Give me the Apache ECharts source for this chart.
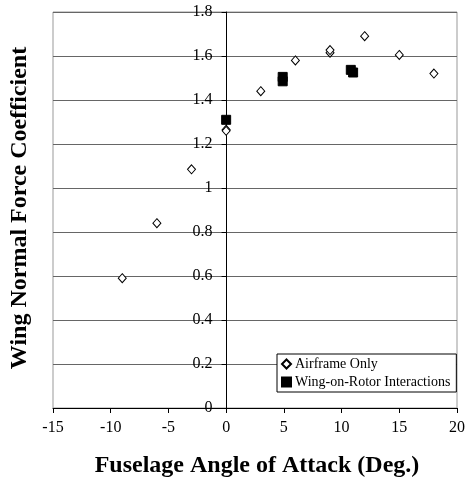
<!DOCTYPE html>
<html>
<head>
<meta charset="utf-8">
<script src="https://cdn.jsdelivr.net/npm/echarts@6/dist/echarts.min.js"></script>
<style>
  html, body { margin: 0; padding: 0; background: #fff; }
  #chart { width: 468px; height: 486px; }
</style>
</head>
<body>
<div id="chart"></div>
<script>
// Wing normal force coefficient vs fuselage angle of attack
const xTicks = [-15, -10, -5, 0, 5, 10, 15, 20];
const yTicks = [0, 0.2, 0.4, 0.6, 0.8, 1, 1.2, 1.4, 1.6, 1.8];

// Airframe only: [angle (deg), coefficient]
const airframeOnly = [
  [-9, 0.59], [-6, 0.84], [-3, 1.085], [0, 1.265], [0, 1.26],
  [3, 1.44], [6, 1.58], [9, 1.615], [9, 1.627], [12, 1.69],
  [15, 1.605], [18, 1.52]
];

// Wing-on-rotor interactions: [angle (deg), coefficient]
const wingOnRotor = [
  [0, 1.31], [4.9, 1.505], [4.9, 1.485], [10.8, 1.537], [11.0, 1.525]
];

const serif = '"Liberation Serif", "DejaVu Serif", serif';

const GRID_LEFT = 53, GRID_RIGHT = 10;
const chartWidth = 468;
const plotWidth = chartWidth - GRID_LEFT - GRID_RIGHT;
const xMin = xTicks[0], xMax = xTicks[xTicks.length - 1];
// The vertical axis sits on angle = 0, so shift it right from the grid's left edge
const yAxisShift = plotWidth * (0 - xMin) / (xMax - xMin);

const chart = echarts.init(document.getElementById('chart'), null, { renderer: 'canvas' });

chart.setOption({
  animation: false,
  backgroundColor: '#fff',
  grid: {
    left: GRID_LEFT, right: GRID_RIGHT, top: 12, bottom: 78,
    show: true, borderColor: '#999', borderWidth: 1, backgroundColor: 'transparent'
  },
  xAxis: {
    type: 'value',
    min: xMin, max: xMax, interval: 5,
    axisLine: { show: true, onZero: true, lineStyle: { color: '#000', width: 1 } },
    axisTick: { show: true, length: 5, inside: false, lineStyle: { color: '#000' } },
    axisLabel: { color: '#000', fontFamily: serif, fontSize: 16, margin: 12 },
    splitLine: { show: false }
  },
  yAxis: {
    type: 'value',
    position: 'left',
    offset: -yAxisShift,
    min: yTicks[0], max: yTicks[yTicks.length - 1], interval: 0.2,
    axisLine: { show: true, onZero: false, lineStyle: { color: '#000', width: 1 } },
    axisTick: { show: true, length: 5, inside: false, lineStyle: { color: '#000' } },
    axisLabel: {
      color: '#000', fontFamily: serif, fontSize: 16, margin: 14,
      formatter: v => String(Math.round(v * 10) / 10)
    },
    splitLine: { show: true, lineStyle: { color: '#666', width: 1 } }
  },
  legend: {
    orient: 'vertical',
    left: 277, top: 354,
    data: ['Airframe Only', 'Wing-on-Rotor Interactions'],
    backgroundColor: '#fff',
    borderColor: '#000', borderWidth: 1, borderRadius: 0,
    padding: [3, 6, 3, 4],
    itemGap: 4, itemWidth: 9, itemHeight: 9,
    textStyle: { color: '#000', fontFamily: serif, fontSize: 14, padding: [0, 0, 0, -1] }
  },
  graphic: [
    {
      type: 'text',
      x: 257, y: 466,
      style: {
        text: 'Fuselage Angle of Attack (Deg.)',
        fontFamily: serif, fontWeight: 'bold', fontSize: 24, fill: '#000',
        align: 'center', verticalAlign: 'middle'
      }
    },
    {
      type: 'text',
      x: 20, y: 208,
      rotation: Math.PI / 2,
      style: {
        text: 'Wing Normal Force Coefficient',
        fontFamily: serif, fontWeight: 'bold', fontSize: 24, fill: '#000',
        align: 'center', verticalAlign: 'middle'
      }
    }
  ],
  series: [
    {
      name: 'Wing-on-Rotor Interactions',
      type: 'scatter',
      symbol: 'rect',
      symbolSize: 9,
      itemStyle: { color: '#000', borderColor: '#000', borderWidth: 1, opacity: 1 },
      data: wingOnRotor,
      z: 2
    },
    {
      name: 'Airframe Only',
      type: 'scatter',
      symbol: 'diamond',
      symbolSize: [8, 9],
      itemStyle: { color: '#fff', borderColor: '#000', borderWidth: 1, opacity: 1 },
      data: airframeOnly,
      z: 3
    }
  ]
});
</script>
</body>
</html>
